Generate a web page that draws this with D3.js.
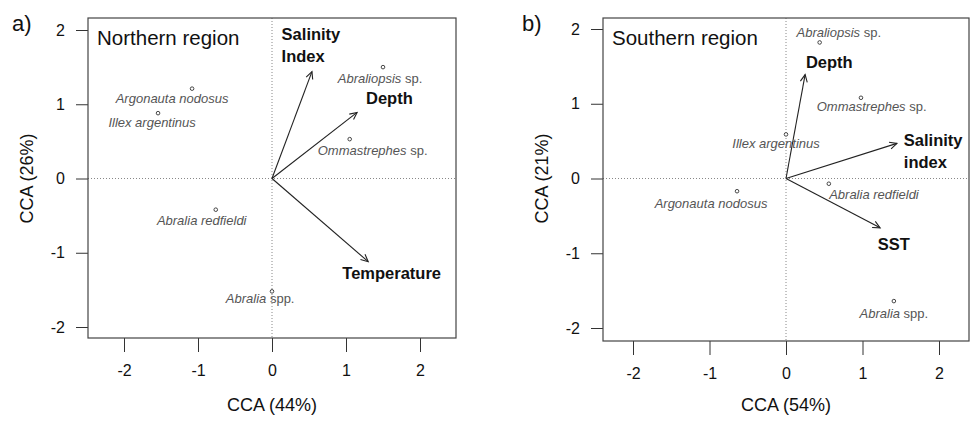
<!DOCTYPE html>
<html>
<head>
<meta charset="utf-8">
<script src="https://cdn.jsdelivr.net/npm/d3@7"></script>
<style>
  body { margin: 0; background: #fff; }
  svg text { font-family: "Liberation Sans", Arial, sans-serif; }
  .axis path { display: none; }
  .axis line { stroke: #333; }
  .axis text { font-size: 16px; fill: #111; }
</style>
</head>
<body>
<div id="chart"></div>
<script>
// Data (CCA scores)
var ticks = [-2, -1, 0, 1, 2];

// a) Northern region
var nSpecies = ["Argonauta nodosus", "Illex argentinus", "Abraliopsis|sp.", "Ommastrephes|sp.", "Abralia redfieldi", "Abralia|spp."],
  nSpX = [-1.08, -1.54, 1.50, 1.05, -0.76, 0.00],
  nSpY = [1.21, 0.88, 1.50, 0.53, -0.42, -1.52],
  nLabX = [-1.35, -1.62, 1.46, 1.36, -0.95, -0.16],
  nLabY = [1.02, 0.69, 1.29, 0.31, -0.62, -1.68];
var nEnv = ["Salinity|Index", "Depth", "Temperature"],
  nEnvX = [0.54, 1.15, 1.30],
  nEnvY = [1.44, 0.89, -1.12],
  nEnvLabX = [0.13, 1.27, 0.95],
  nEnvLabY = [1.86, 1.00, -1.35];

// b) Southern region
var sSpecies = ["Abraliopsis|sp.", "Ommastrephes|sp.", "Illex argentinus", "Abralia redfieldi", "Argonauta nodosus", "Abralia|spp."],
  sSpX = [0.44, 0.98, 0.00, 0.56, -0.64, 1.41],
  sSpY = [1.82, 1.08, 0.59, -0.07, -0.17, -1.64],
  sLabX = [0.69, 1.12, -0.13, 1.15, -0.98, 1.41],
  sLabY = [1.89, 0.90, 0.41, -0.27, -0.39, -1.87];
var sEnv = ["Depth", "Salinity|index", "SST"],
  sEnvX = [0.25, 1.45, 1.23],
  sEnvY = [1.39, 0.47, -0.66],
  sEnvLabX = [0.26, 1.54, 1.20],
  sEnvLabY = [1.48, 0.43, -0.95];

var W = 973, H = 421;
var svg = d3.select("#chart").append("svg")
  .attr("width", W)
  .attr("height", H);

function drawPanel(p) {
  // scales map tick -2..2 onto the tick pixels, box extends a bit beyond
  var x = d3.scaleLinear().domain([-2, 2]).range(p.xr);
  var y = d3.scaleLinear().domain([-2, 2]).range(p.yr);
  var g = svg.append("g");

  // zero lines
  g.append("line")
    .attr("x1", p.box[0]).attr("x2", p.box[1])
    .attr("y1", y(0)).attr("y2", y(0))
    .attr("stroke", "#888").attr("stroke-dasharray", "1,2");
  g.append("line")
    .attr("x1", x(0)).attr("x2", x(0))
    .attr("y1", p.box[2]).attr("y2", p.box[3])
    .attr("stroke", "#888").attr("stroke-dasharray", "1,2");

  // axes
  g.append("g").attr("class", "axis")
    .attr("transform", "translate(" + p.box[0] + ",0)")
    .call(d3.axisLeft(y).tickValues(ticks).tickSize(12).tickPadding(11).tickFormat(d3.format("d")));
  g.append("g").attr("class", "axis")
    .attr("transform", "translate(0," + p.box[3] + ")")
    .call(d3.axisBottom(x).tickValues(ticks).tickSize(14).tickPadding(13).tickFormat(d3.format("d")));
  g.selectAll(".axis text").text(function(d) { return d < 0 ? "-" + (-d) : d; });

  // box
  g.append("rect")
    .attr("x", p.box[0]).attr("y", p.box[2])
    .attr("width", p.box[1] - p.box[0]).attr("height", p.box[3] - p.box[2])
    .attr("fill", "none").attr("stroke", "#444").attr("stroke-width", 1.2);

  // titles
  g.append("text").attr("x", p.letterX).attr("y", 31)
    .attr("font-size", 22).attr("fill", "#111").text(p.letter);
  g.append("text").attr("x", p.box[0] + 9).attr("y", 45)
    .attr("font-size", 20.5).attr("fill", "#111").text(p.title);
  g.append("text")
    .attr("x", x(0)).attr("y", 411)
    .attr("text-anchor", "middle").attr("font-size", 18).attr("fill", "#111")
    .text(p.xTitle);
  g.append("text")
    .attr("transform", "translate(" + p.yTitleX + "," + y(0) + ")rotate(-90)")
    .attr("text-anchor", "middle").attr("font-size", 18).attr("fill", "#111")
    .text(p.yTitle);

  // env arrows
  p.envX.forEach(function(vx, i) {
    var x0 = x(0), y0 = y(0), x1 = x(vx), y1 = y(p.envY[i]);
    var a = Math.atan2(y1 - y0, x1 - x0), L = 8, s = Math.PI / 7;
    g.append("line").attr("x1", x0).attr("y1", y0).attr("x2", x1).attr("y2", y1)
      .attr("stroke", "#222").attr("stroke-width", 1.1);
    g.append("path")
      .attr("d", "M" + (x1 - L * Math.cos(a - s)) + "," + (y1 - L * Math.sin(a - s)) +
        "L" + x1 + "," + y1 +
        "L" + (x1 - L * Math.cos(a + s)) + "," + (y1 - L * Math.sin(a + s)))
      .attr("fill", "none").attr("stroke", "#222").attr("stroke-width", 1.1);
    var lines = p.env[i].split("|");
    var t = g.append("text")
      .attr("x", x(p.envLabX[i])).attr("y", y(p.envLabY[i]))
      .attr("font-size", 16.5).attr("font-weight", "bold").attr("fill", "#111");
    lines.forEach(function(l, j) {
      t.append("tspan").attr("x", x(p.envLabX[i])).attr("dy", j ? 22 : 0).text(l);
    });
  });

  // species
  p.spX.forEach(function(vx, i) {
    g.append("circle")
      .attr("cx", x(vx)).attr("cy", y(p.spY[i])).attr("r", 1.8)
      .attr("fill", "#fff").attr("stroke", "#333").attr("stroke-width", 0.9);
    var parts = p.species[i].split("|");
    var t = g.append("text")
      .attr("x", x(p.labX[i])).attr("y", y(p.labY[i]))
      .attr("text-anchor", "middle").attr("font-size", 13).attr("fill", "#555");
    t.append("tspan").attr("font-style", "italic").text(parts[0]);
    if (parts[1]) t.append("tspan").text(" " + parts[1]);
  });
}

drawPanel({
  xr: [124, 420], yr: [327, 30], box: [88, 456, 18, 338],
  letter: "a)", letterX: 12, title: "Northern region",
  xTitle: "CCA (44%)", yTitle: "CCA (26%)", yTitleX: 33,
  species: nSpecies, spX: nSpX, spY: nSpY, labX: nLabX, labY: nLabY,
  env: nEnv, envX: nEnvX, envY: nEnvY, envLabX: nEnvLabX, envLabY: nEnvLabY
});

drawPanel({
  xr: [633, 939], yr: [328, 29], box: [603, 969, 18, 341],
  letter: "b)", letterX: 522, title: "Southern region",
  xTitle: "CCA (54%)", yTitle: "CCA (21%)", yTitleX: 548,
  species: sSpecies, spX: sSpX, spY: sSpY, labX: sLabX, labY: sLabY,
  env: sEnv, envX: sEnvX, envY: sEnvY, envLabX: sEnvLabX, envLabY: sEnvLabY
});
</script>
</body>
</html>
